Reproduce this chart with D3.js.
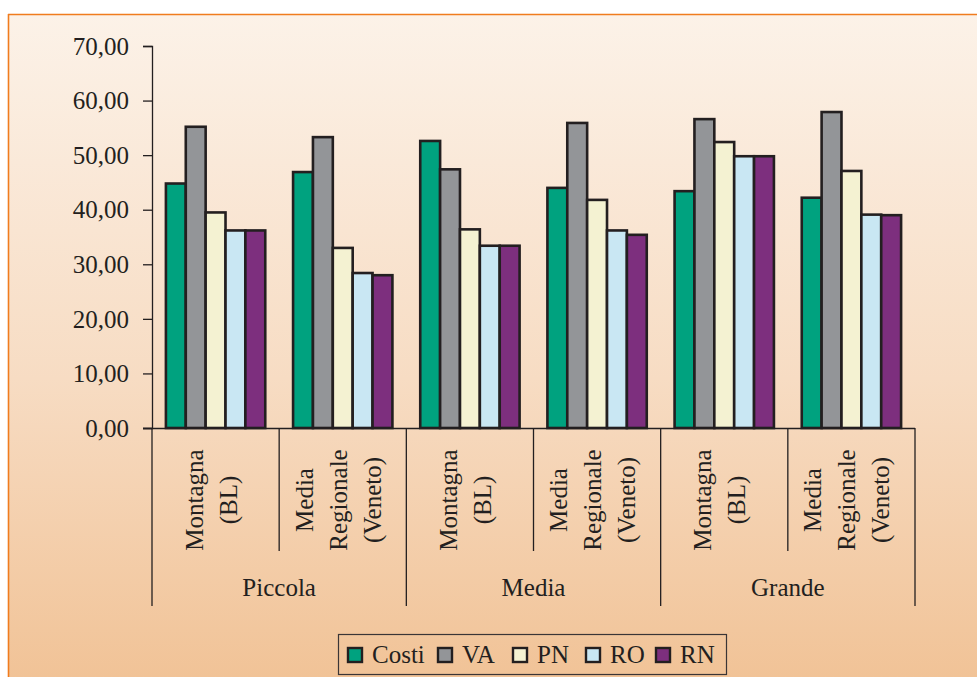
<!DOCTYPE html>
<html>
<head>
<meta charset="utf-8">
<script src="https://cdn.jsdelivr.net/npm/d3@7"></script>
<style>
  html, body { margin: 0; padding: 0; background: #ffffff; }
  svg { display: block; }
  text { font-family: "Liberation Serif", "DejaVu Serif", serif; fill: #231f20; }
</style>
</head>
<body>
<svg id="chart" width="977" height="677"></svg>
<script>
// Data
const sizes = ["Piccola", "Media", "Grande"];
const areas = [["Montagna", "(BL)"], ["Media", "Regionale", "(Veneto)"]];
const seriesNames = ["Costi", "VA", "PN", "RO", "RN"];
const seriesColors = ["#00a27f", "#939598", "#f4f2d2", "#c9e7f3", "#7d2f7e"];
const costi = [44.8, 46.9, 52.6, 44.0, 43.4, 42.2];
const va    = [55.2, 53.3, 47.4, 55.9, 56.6, 57.9];
const pn    = [39.5, 33.0, 36.4, 41.8, 52.4, 47.1];
const ro    = [36.2, 28.4, 33.4, 36.2, 49.8, 39.1];
const rn    = [36.2, 28.0, 33.4, 35.4, 49.8, 39.0];
const yTicks = [0, 10, 20, 30, 40, 50, 60, 70];

const seriesValues = [costi, va, pn, ro, rn];
const groups = [];
sizes.forEach((s, i) => areas.forEach((a, j) => groups.push({ id: i * 2 + j, size: s, area: a })));

const svg = d3.select("#chart");
const W = 977, H = 677;

// Panel background with soft vertical gradient
const defs = svg.append("defs");
const grad = defs.append("linearGradient").attr("id", "bg").attr("x1", 0).attr("y1", 0).attr("x2", 0).attr("y2", 1);
grad.append("stop").attr("offset", "0%").attr("stop-color", "#fcf2e8");
grad.append("stop").attr("offset", "55%").attr("stop-color", "#f7dcc3");
grad.append("stop").attr("offset", "100%").attr("stop-color", "#f1c397");

svg.append("rect").attr("x", 8).attr("y", 14).attr("width", W - 8).attr("height", H - 14).attr("fill", "url(#bg)");
svg.append("line").attr("x1", 8).attr("x2", W).attr("y1", 14.5).attr("y2", 14.5)
  .attr("stroke", "#f07c1e").attr("stroke-width", 1.6);
svg.append("line").attr("x1", 8.5).attr("x2", 8.5).attr("y1", 14).attr("y2", H)
  .attr("stroke", "#f07c1e").attr("stroke-width", 1.6);

// Scales
const x0 = d3.scaleBand().domain(groups.map(g => g.id)).range([152, 915]).padding(0);
const x1 = d3.scaleBand().domain(seriesNames).range([0, x0.bandwidth()]).paddingInner(0).paddingOuter(0.7);
const y = d3.scaleLinear().domain([0, 70]).range([428, 46]);

const ink = "#231f20";

// Y axis
const yAxis = d3.axisLeft(y).tickValues(yTicks).tickSize(9).tickPadding(14)
  .tickFormat(d => d3.format(".2f")(d).replace(".", ","));
const gy = svg.append("g").attr("transform", "translate(152,0)").call(yAxis);
gy.select(".domain").attr("stroke", ink).attr("stroke-width", 1.3);
gy.selectAll(".tick line").attr("stroke", ink).attr("stroke-width", 1.3);
gy.selectAll(".tick text").style("font-size", "25px").attr("fill", ink).attr("dy", "0.33em");

// Bars
const barG = svg.append("g");
groups.forEach(g => {
  seriesNames.forEach((s, k) => {
    const v = seriesValues[k][g.id];
    barG.append("rect")
      .attr("x", x0(g.id) + x1(s))
      .attr("y", y(v))
      .attr("width", x1.bandwidth())
      .attr("height", y(0) - y(v))
      .attr("fill", seriesColors[k])
      .attr("stroke", ink)
      .attr("stroke-width", 2.6);
  });
});

// X axis baseline
svg.append("line").attr("x1", 143).attr("x2", 915).attr("y1", 428.5).attr("y2", 428.5)
  .attr("stroke", ink).attr("stroke-width", 1.3);

// Category separators: short between areas, long between sizes
const bounds = x0.domain().map(d => x0(d)).concat([x0.range()[1]]);
bounds.forEach((bx, i) => {
  const long = i % 2 === 0;
  svg.append("line").attr("x1", bx).attr("x2", bx)
    .attr("y1", 428).attr("y2", long ? 606 : 551)
    .attr("stroke", ink).attr("stroke-width", 1.3);
});

// Rotated area labels
const lh = 34;
groups.forEach(g => {
  const cx = x0(g.id) + x0.bandwidth() / 2;
  const n = g.area.length;
  g.area.forEach((line, i) => {
    const bx = cx + (i - (n - 1) / 2) * lh + 4;
    svg.append("text")
      .attr("transform", `translate(${bx},500) rotate(-90)`)
      .attr("text-anchor", "middle")
      .style("font-size", "25px")
      .text(line);
  });
});

// Size labels
sizes.forEach((s, i) => {
  const cx = (x0(i * 2) + x0(i * 2 + 1) + x0.bandwidth()) / 2;
  svg.append("text").attr("x", cx).attr("y", 596)
    .attr("text-anchor", "middle").style("font-size", "25px").text(s);
});

// Legend
const leg = svg.append("g");
leg.append("rect").attr("x", 338.5).attr("y", 634.5).attr("width", 388).attr("height", 40)
  .attr("fill", "none").attr("stroke", "#3a3536").attr("stroke-width", 1.2);
const legX = [347, 437, 512, 585, 655];
seriesNames.forEach((s, k) => {
  leg.append("rect").attr("x", legX[k] + 1).attr("y", 648).attr("width", 14).attr("height", 14)
    .attr("fill", seriesColors[k]).attr("stroke", ink).attr("stroke-width", 2.4);
  leg.append("text").attr("x", legX[k] + 25).attr("y", 663).style("font-size", "25px").text(s);
});
</script>
</body>
</html>
